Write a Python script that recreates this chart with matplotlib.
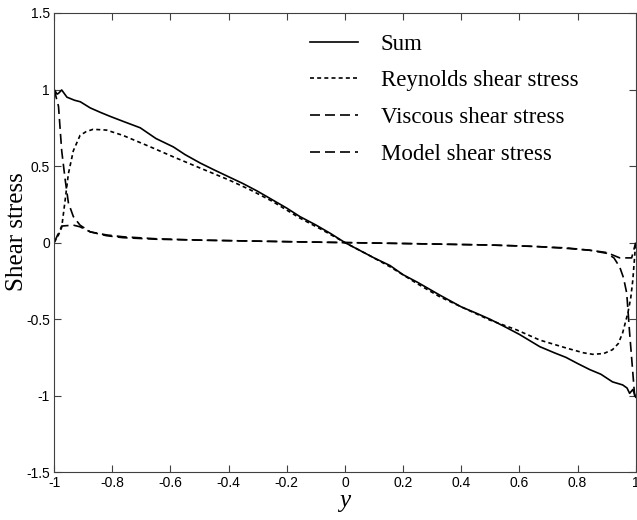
import matplotlib
matplotlib.use("Agg")
import matplotlib.pyplot as plt
import numpy as np

# values
sum_y = [-1.0, -0.99, -0.985, -0.974, -0.956, -0.93, -0.91, -0.876, -0.84, -0.808, -0.76,
         -0.704, -0.65, -0.59, -0.55, -0.498, -0.45, -0.40, -0.35, -0.30, -0.25, -0.20,
         -0.155, -0.10, -0.05, 0.0, 0.05, 0.10, 0.155, 0.20, 0.25, 0.326, 0.40, 0.45,
         0.498, 0.55, 0.60, 0.67, 0.72, 0.76, 0.80, 0.842, 0.88, 0.92, 0.955, 0.97,
         0.979, 0.99, 1.0]
sum_v = [1.0, 0.97, 0.975, 0.997, 0.95, 0.93, 0.92, 0.88, 0.85, 0.825, 0.79,
         0.75, 0.68, 0.625, 0.575, 0.52, 0.475, 0.43, 0.385, 0.335, 0.28, 0.225,
         0.17, 0.115, 0.06, 0.0, -0.05, -0.10, -0.15, -0.21, -0.26, -0.343, -0.42, -0.46,
         -0.50, -0.55, -0.60, -0.68, -0.72, -0.75, -0.79, -0.83, -0.86, -0.91, -0.93, -0.95,
         -0.985, -0.96, -1.01]

rey_y = [-1.0, -0.985, -0.974, -0.962, -0.951, -0.934, -0.911, -0.89, -0.866, -0.82,
         -0.763, -0.67, -0.59, -0.498, -0.40, -0.326, -0.25, -0.155, -0.08, 0.0,
         0.08, 0.155, 0.25, 0.326, 0.40, 0.498, 0.59, 0.67, 0.763, 0.82, 0.852,
         0.89, 0.92, 0.94, 0.955, 0.973, 0.983, 0.99, 1.0]
rey_v = [0.0, 0.05, 0.10, 0.28, 0.45, 0.60, 0.70, 0.725, 0.74, 0.735,
         0.70, 0.626, 0.56, 0.487, 0.41, 0.345, 0.27, 0.16, 0.085, 0.0,
         -0.08, -0.158, -0.27, -0.354, -0.42, -0.506, -0.57, -0.637, -0.69, -0.72, -0.73,
         -0.725, -0.70, -0.66, -0.59, -0.46, -0.36, -0.245, 0.0]

vis_y = [-1.0, -0.985, -0.974, -0.962, -0.951, -0.934, -0.911, -0.876, -0.82, -0.763,
         -0.65, -0.50, -0.35, -0.20, 0.0, 0.20, 0.35, 0.50, 0.65, 0.763, 0.842,
         0.90, 0.925, 0.945, 0.958, 0.969, 0.979, 0.99, 0.997]
vis_v = [1.0, 0.89, 0.60, 0.41, 0.26, 0.17, 0.114, 0.07, 0.045, 0.032,
         0.022, 0.016, 0.011, 0.006, 0.0, -0.006, -0.011, -0.016, -0.025, -0.035, -0.05,
         -0.07, -0.10, -0.16, -0.23, -0.33, -0.59, -0.85, -1.02]

mod_y = [-1.0, -0.974, -0.934, -0.911, -0.876, -0.82, -0.763, -0.65, -0.50, -0.35,
         -0.20, 0.0, 0.20, 0.35, 0.50, 0.65, 0.763, 0.842, 0.90, 0.945, 0.986, 1.0]
mod_v = [0.0, 0.108, 0.114, 0.103, 0.07, 0.05, 0.038, 0.025, 0.016, 0.011,
         0.006, 0.0, -0.006, -0.011, -0.016, -0.025, -0.038, -0.05, -0.065, -0.10, -0.10, 0.0]

labels = ["Sum", "Reynolds shear stress", "Viscous shear stress", "Model shear stress"]
x_ticks = [-1, -0.8, -0.6, -0.4, -0.2, 0, 0.2, 0.4, 0.6, 0.8, 1]
y_ticks = [-1.5, -1, -0.5, 0, 0.5, 1, 1.5]

fig = plt.figure(figsize=(6.37, 5.2), dpi=100)
ax = fig.add_axes([0.085, 0.092, 0.913, 0.883])

ax.plot(sum_y, sum_v, color="black", lw=1.2, label=labels[0])
ax.plot(rey_y, rey_v, color="black", lw=1.2, dashes=(2.4, 1.9), label=labels[1])
ax.plot(vis_y, vis_v, color="black", lw=1.2, dashes=(6.0, 3.0), label=labels[2])
ax.plot(mod_y, mod_v, color="black", lw=1.2, dashes=(6.0, 3.0), dash_capstyle="butt",
        label=labels[3])

ax.set_xlim(-1, 1)
ax.set_ylim(-1.5, 1.5)
ax.set_xticks(x_ticks)
ax.set_xticklabels([f"{t:g}" for t in x_ticks])
ax.set_yticks(y_ticks)
ax.set_yticklabels([f"{t:g}" for t in y_ticks])
ax.tick_params(direction="in", length=5, width=0.8, top=True, right=True,
               colors="#404040", labelcolor="black", labelsize=10, pad=3)
for lab in ax.get_xticklabels() + ax.get_yticklabels():
    lab.set_family("Liberation Sans")
for sp in ax.spines.values():
    sp.set_color("#404040")
    sp.set_linewidth(0.8)

ax.set_xlabel("y", family="Liberation Serif", style="italic", fontsize=18, labelpad=0)
ax.set_ylabel("Shear stress", family="Liberation Serif", fontsize=18)
ax.yaxis.set_label_coords(-0.045, 0.523)

ax.legend(loc="upper left", bbox_to_anchor=(0.42, 0.98), frameon=False,
          prop={"family": "Liberation Serif", "size": 16.5},
          handlelength=2.1, handletextpad=1.0, labelspacing=0.68, borderpad=0)

fig.savefig("out.png", dpi=100)
